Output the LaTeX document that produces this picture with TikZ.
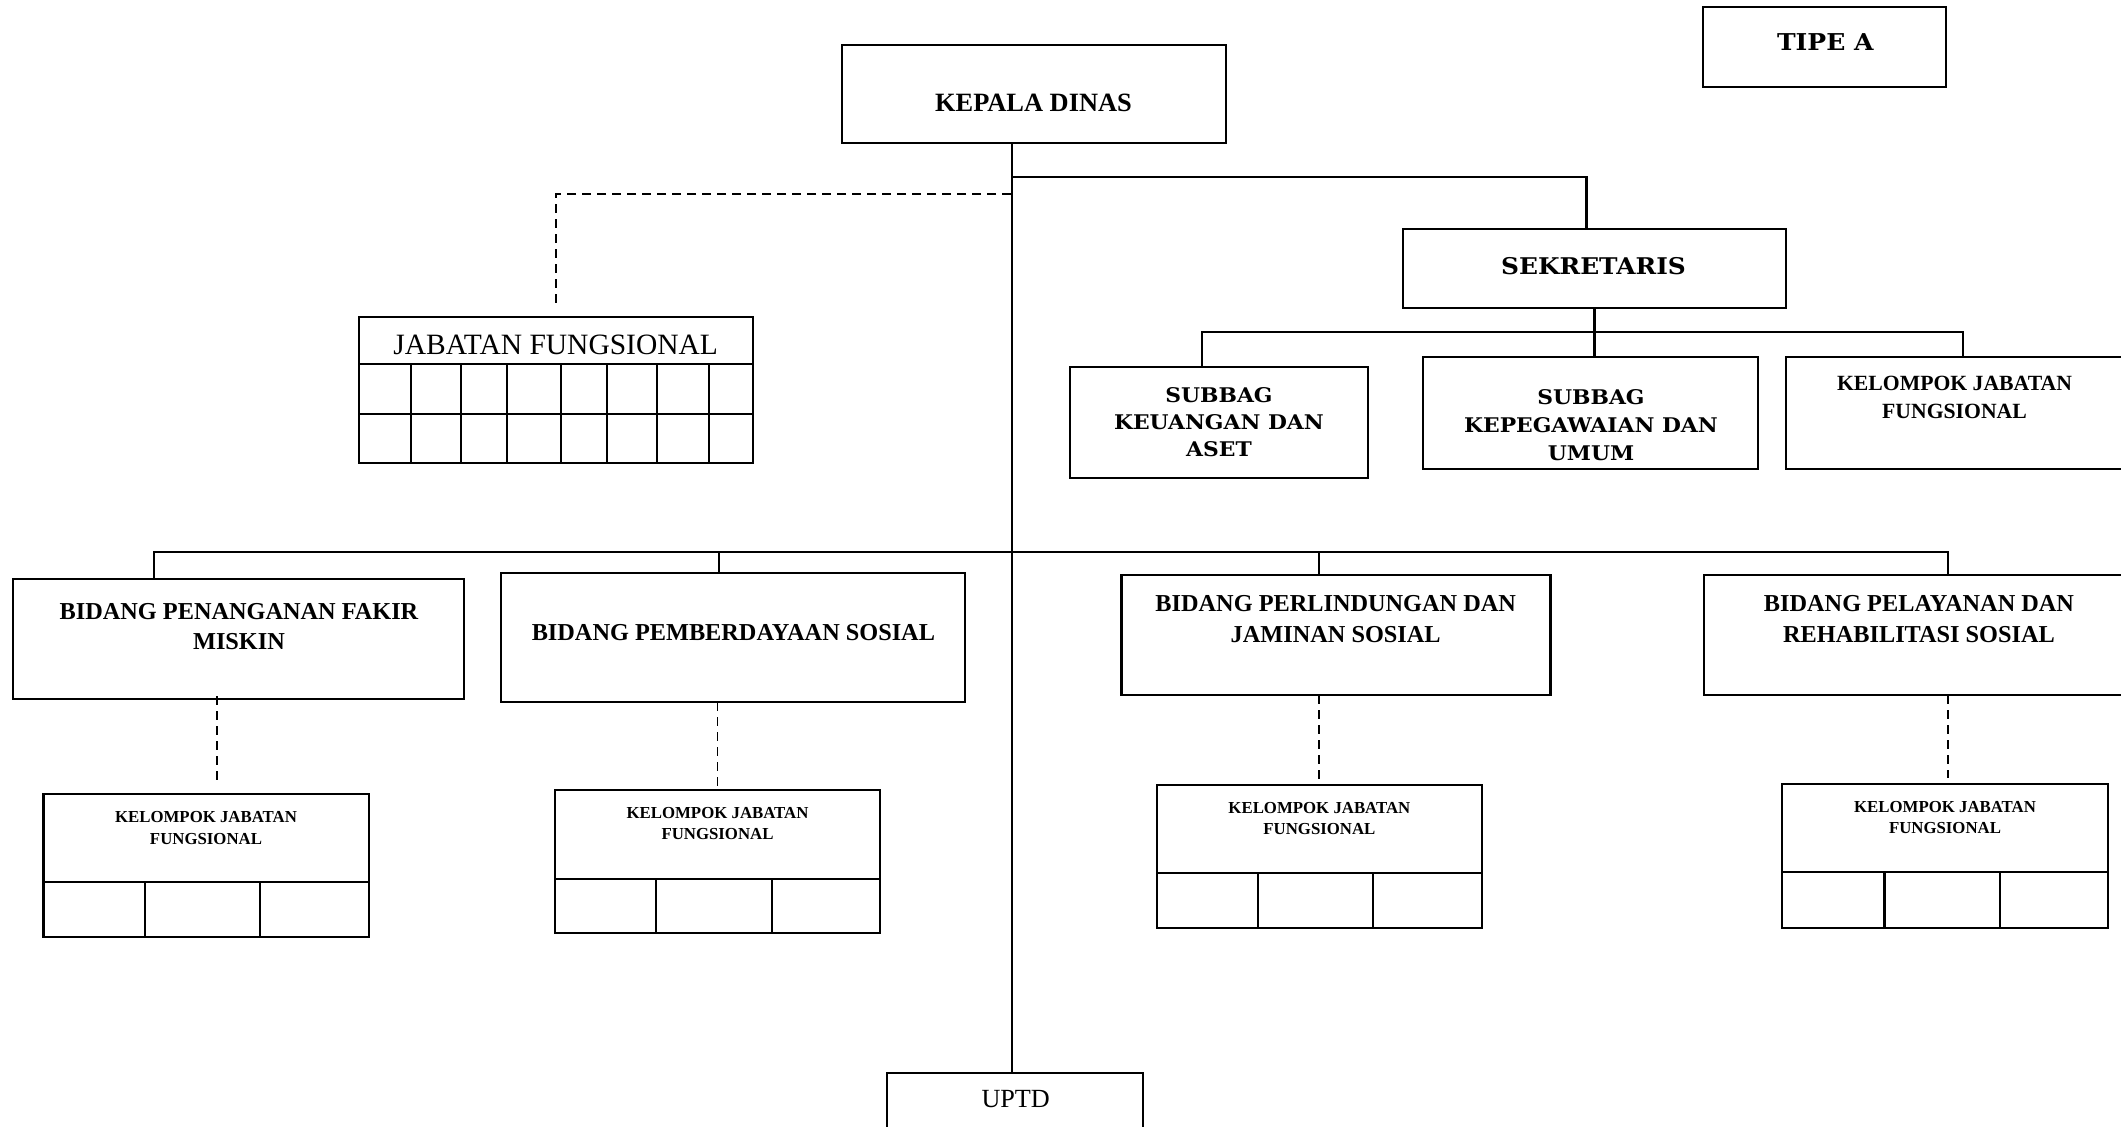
\documentclass[tikz,border=0pt]{standalone}
\usepackage{fontspec}
\setmainfont{Liberation Serif}
\newfontfamily\bkfont[FakeStretch=1.08]{DejaVu Serif}
\newcommand\myfs[2]{\fontsize{#1}{#2}\selectfont}
\tikzset{
  box/.style={draw, line width=2.2pt, rectangle, inner sep=0pt, outer sep=0pt},
  conn/.style={line width=2.2pt},
  dsh/.style={line width=1.9pt, dash pattern=on 9pt off 6pt},
  grid/.style={line width=2.1pt},
  lbl/.style={inner sep=0pt, outer sep=0pt, align=center},
}
\begin{document}
\begin{tikzpicture}[x=1pt,y=-1pt]
\useasboundingbox (0,0) rectangle (2121,1127);
\clip (0,0) rectangle (2121,1127);

% ---------- boxes ----------
\node[box, minimum width=384pt, minimum height=98.3pt] (kepala) at (1033.7,94.2) {};
\node[box, minimum width=242.4pt, minimum height=80pt] (tipe) at (1824.5,47.3) {};
\node[box, minimum width=394.3pt, minimum height=146.6pt] (jab) at (556.2,390) {};
\node[box, minimum width=383pt, minimum height=79pt] (sek) at (1594.5,268.8) {};
\node[box, minimum width=298pt, minimum height=111.3pt] (sub1) at (1219,422.4) {};
\node[box, minimum width=335pt, minimum height=112.6pt] (sub2) at (1590.5,413) {};
\node[box, minimum width=340pt, minimum height=112.6pt] (sub3) at (1956,413) {};
\node[box, minimum width=450.8pt, minimum height=120pt] (bid1) at (238.2,639.3) {};
\node[box, minimum width=463.7pt, minimum height=129pt] (bid2) at (733.2,637.8) {};
\node[box, minimum width=429pt, minimum height=120.3pt] (bid3) at (1336,635.2) {};
\node[box, minimum width=430pt, minimum height=120.3pt] (bid4) at (1919,635.2) {};
\node[box, minimum width=325.2pt, minimum height=143.3pt] (kjf1) at (206,865.7) {};
\node[box, minimum width=325.3pt, minimum height=143.3pt] (kjf2) at (717.5,861.7) {};
\node[box, minimum width=325.6pt, minimum height=143.3pt] (kjf3) at (1319.4,856.7) {};
\node[box, minimum width=325.5pt, minimum height=143.7pt] (kjf4) at (1945,855.9) {};
\node[box, minimum width=255.4pt, minimum height=67.3pt] (uptd) at (1015,1106.4) {};

% ---------- inner grid lines ----------
\draw[grid] (359,364) -- (753.3,364);
\draw[grid] (359,414) -- (753.3,414);
\foreach \x in {410.7,460.7,507.3,560.7,606.7,656.7,709.3}
  \draw[grid] (\x,364) -- (\x,463.3);
\draw[grid] (43.4,881.7) -- (368.6,881.7) (145.4,881.7) -- (145.4,937.3) (260.2,881.7) -- (260.2,937.3);
\draw[grid] (554.8,879) -- (880.1,879) (655.6,879) -- (655.6,933.3) (771.7,879) -- (771.7,933.3);
\draw[grid] (1156.6,872.7) -- (1482.2,872.7) (1258.2,872.7) -- (1258.2,928.3) (1373.4,872.7) -- (1373.4,928.3);
\draw[grid] (1782.3,872.3) -- (2107.8,872.3) (1884.5,872.3) -- (1884.5,927.7) (1999.7,872.3) -- (1999.7,927.7);

% ---------- labels ----------
\node[lbl, font=\bfseries\myfs{26.4}{30}] (kepala-t) at (1033.5,103.3) {KEPALA DINAS};
\node[lbl, font=\bkfont\bfseries\myfs{23.2}{28}] (tipe-t) at (1825.3,42.5) {TIPE A};
\node[lbl, font=\myfs{29.5}{32}] (jab-t) at (555.7,344.5) {JABATAN FUNGSIONAL};
\node[lbl, font=\bkfont\bfseries\myfs{23}{28}] (sek-t) at (1593.5,266) {SEKRETARIS};
\node[lbl, font=\bkfont\bfseries\myfs{20.2}{27.2}] (sub1-t) at (1219,422.2) {SUBBAG\\KEUANGAN DAN\\ASET};
\node[lbl, font=\bkfont\bfseries\myfs{20.2}{28.3}] (sub2-t) at (1591,425) {SUBBAG\\KEPEGAWAIAN DAN\\UMUM};
\node[lbl, font=\bfseries\myfs{21.7}{28.7}] (sub3-t) at (1954.5,397.3) {KELOMPOK JABATAN\\FUNGSIONAL};
\node[lbl, font=\bfseries\myfs{24.3}{30}] (bid1-t) at (239,626.7) {BIDANG PENANGANAN FAKIR\\MISKIN};
\node[lbl, font=\bfseries\myfs{24.3}{30}] (bid2-t) at (733.4,632.7) {BIDANG PEMBERDAYAAN SOSIAL};
\node[lbl, font=\bfseries\myfs{24.3}{31}] (bid3-t) at (1335.7,618.8) {BIDANG PERLINDUNGAN DAN\\JAMINAN SOSIAL};
\node[lbl, font=\bfseries\myfs{24.3}{31}] (bid4-t) at (1919,618.8) {BIDANG PELAYANAN DAN\\REHABILITASI SOSIAL};
\node[lbl, font=\bfseries\myfs{16.8}{21.7}] (kjf1-t) at (206,828.2) {KELOMPOK JABATAN\\FUNGSIONAL};
\node[lbl, font=\bfseries\myfs{16.8}{20.7}] (kjf2-t) at (717.5,823.7) {KELOMPOK JABATAN\\FUNGSIONAL};
\node[lbl, font=\bfseries\myfs{16.8}{20.4}] (kjf3-t) at (1319.4,818.5) {KELOMPOK JABATAN\\FUNGSIONAL};
\node[lbl, font=\bfseries\myfs{16.8}{21.6}] (kjf4-t) at (1945,817.5) {KELOMPOK JABATAN\\FUNGSIONAL};
\node[lbl, font=\myfs{26.2}{30}] (uptd-t) at (1015.7,1099) {UPTD};

% ---------- connectors ----------
\coordinate (sp) at (1012.3,0);
\coordinate (j1) at (1012.3,177.3);
\coordinate (j2) at (1011,194);
\coordinate (b2) at (1592,331.7);
\coordinate (b3) at (1012.3,551.7);

\draw[conn] (kepala.south -| sp) -- (uptd.north -| sp);
\draw[conn] (j1) -| ([xshift=-8pt]sek.north);
\draw[dsh] (j2) -| ([yshift=10pt]jab.north);

\draw[conn] (sek.south) -- (sek.south |- sub2.north);
\draw[conn] ([xshift=-17pt]sub1.north) |- (b2);
\draw[conn] ([xshift=7pt]sub3.north) |- (b2);

\draw[conn] ([xshift=-84pt]bid1.north) |- (b3);
\draw[conn] ([xshift=-14.4pt]bid2.north) |- (b3);
\draw[conn] ([xshift=-17.2pt]bid3.north) |- (b3);
\draw[conn] ([xshift=28.7pt]bid4.north) |- (b3);

\coordinate[xshift=10.8pt] (d1) at (kjf1.north);
\draw[dsh] ([yshift=3pt]d1 |- bid1.south) -- ([yshift=14pt]d1);
\draw[dsh] (kjf2.north |- bid2.south) -- ([yshift=3pt]kjf2.north);
\draw[dsh] (kjf3.north |- bid3.south) -- ([yshift=5pt]kjf3.north);
\coordinate[xshift=2.7pt] (d4) at (kjf4.north);
\draw[dsh] (d4 |- bid4.south) -- ([yshift=6pt]d4);
\end{tikzpicture}
\end{document}
